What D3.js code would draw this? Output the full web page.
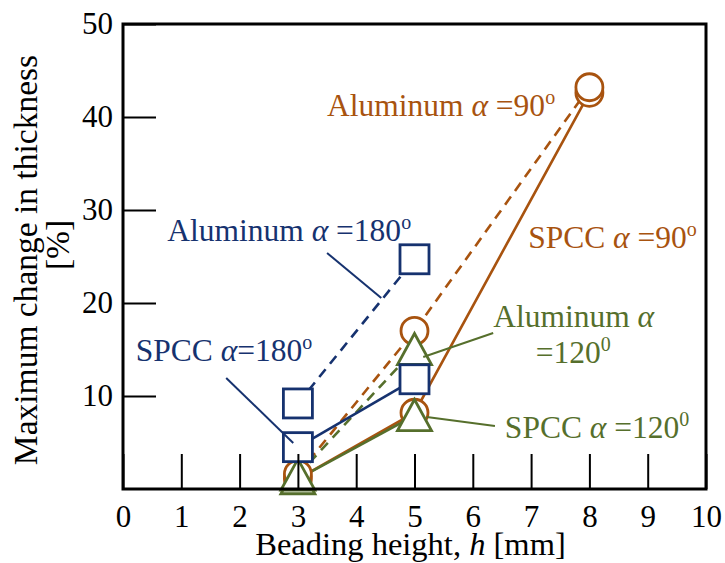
<!DOCTYPE html>
<html>
<head>
<meta charset="utf-8">
<script src="https://cdn.jsdelivr.net/npm/d3@7/dist/d3.min.js"></script>
<style>
  html, body { margin: 0; padding: 0; background: #fff; }
  svg { display: block; }
  text { font-family: "Liberation Serif", "Times New Roman", serif; }
</style>
</head>
<body>
<svg id="chart" width="725" height="563"></svg>
<script>
// Beading height [mm]
const heights = [3, 5, 8];
const heightsShort = [3, 5];

// Maximum change in thickness [%]
const alu90   = [1.6, 17.0, 43.2];
const spcc90  = [1.1, 8.2, 42.6];
const alu120  = [1.5, 15.0];
const spcc120 = [1.1, 7.9];
const alu180  = [9.2, 24.7];
const spcc180 = [4.5, 11.8];

const xTicks = [0, 1, 2, 3, 4, 5, 6, 7, 8, 9, 10];
const yTicks = [10, 20, 30, 40, 50];

const NAVY = "#16326f", ORANGE = "#a8530f", GREEN = "#566f2c";
const SERIF = '"Liberation Serif", "Times New Roman", serif';

const svg = d3.select("#chart");
const x = d3.scaleLinear().domain([0, 10]).range([123, 706]);
const y = d3.scaleLinear().domain([0, 50]).range([489, 24]);

// series: marker shape, colour, dashed or solid
const series = [
  { name: "alu90",   xs: heights,      ys: alu90,   color: ORANGE, dash: true,  shape: "circle" },
  { name: "spcc90",  xs: heights,      ys: spcc90,  color: ORANGE, dash: false, shape: "circle" },
  { name: "alu120",  xs: heightsShort, ys: alu120,  color: GREEN,  dash: true,  shape: "triangle" },
  { name: "spcc120", xs: heightsShort, ys: spcc120, color: GREEN,  dash: false, shape: "triangle" },
  { name: "alu180",  xs: heightsShort, ys: alu180,  color: NAVY,   dash: true,  shape: "square" },
  { name: "spcc180", xs: heightsShort, ys: spcc180, color: NAVY,   dash: false, shape: "square" }
];

const line = d3.line().x(d => x(d[0])).y(d => y(d[1]));

// connecting lines
svg.append("g").selectAll("path")
  .data(series)
  .join("path")
  .attr("d", s => line(s.xs.map((h, i) => [h, s.ys[i]])))
  .attr("fill", "none")
  .attr("stroke", s => s.color)
  .attr("stroke-width", 2.6)
  .attr("stroke-dasharray", s => s.dash ? "10,7" : null);

// markers: circles, then triangles, then squares
const markers = svg.append("g");
["circle", "triangle", "square"].forEach(shape => {
  series.filter(s => s.shape === shape).slice().reverse().forEach(s => {
    const pts = s.xs.map((h, i) => [h, s.ys[i]]);
    const g = markers.append("g");
    if (shape === "circle") {
      g.selectAll("circle").data(pts).join("circle")
        .attr("cx", d => x(d[0])).attr("cy", d => y(d[1])).attr("r", 13.5);
    } else if (shape === "square") {
      g.selectAll("rect").data(pts).join("rect")
        .attr("x", d => x(d[0]) - 14.5).attr("y", d => y(d[1]) - 14.5)
        .attr("width", 29).attr("height", 29);
    } else {
      g.selectAll("path").data(pts).join("path")
        .attr("transform", d => `translate(${x(d[0])},${y(d[1])})`)
        .attr("d", "M0,-16L17,15L-17,15Z");
    }
    g.selectAll("*").attr("fill", "#fff").attr("stroke", s.color)
      .attr("stroke-width", 2.8).attr("stroke-linejoin", "miter");
  });
});

// axes with inward ticks
const fontTick = 31;
const xAxis = svg.append("g").attr("transform", `translate(0,${y(0)})`)
  .call(d3.axisBottom(x).tickValues(xTicks).tickSizeInner(-35).tickSizeOuter(0).tickPadding(16).tickFormat(d3.format("d")));
const yAxis = svg.append("g").attr("transform", `translate(${x(0)},0)`)
  .call(d3.axisLeft(y).tickValues(yTicks).tickSizeInner(-33).tickSizeOuter(0).tickPadding(10).tickFormat(d3.format("d")));
[xAxis, yAxis].forEach(a => {
  a.attr("font-family", SERIF);
  a.select(".domain").remove();
  a.selectAll(".tick line").attr("stroke", "#000").attr("stroke-width", 2);
  a.selectAll(".tick text").attr("fill", "#000").style("font-size", fontTick + "px")
    .style("font-family", SERIF);
});

// frame
svg.append("rect")
  .attr("x", x(0)).attr("y", y(50))
  .attr("width", x(10) - x(0)).attr("height", y(0) - y(50))
  .attr("fill", "none").attr("stroke", "#000").attr("stroke-width", 3);

// axis titles
const xt = svg.append("text")
  .attr("x", (x(0) + x(10)) / 2 - 4).attr("y", 555)
  .attr("text-anchor", "middle").style("font-size", "32.5px");
xt.append("tspan").text("Beading height, ");
xt.append("tspan").attr("font-style", "italic").text("h");
xt.append("tspan").text(" [mm]");

svg.append("text")
  .attr("transform", "translate(37,260) rotate(-90)")
  .attr("text-anchor", "middle").style("font-size", "33.5px")
  .text("Maximum change in thickness");
svg.append("text")
  .attr("transform", "translate(69,245) rotate(-90)")
  .attr("text-anchor", "middle").style("font-size", "33.5px")
  .text("[%]");

// annotation labels (data units)
const labels = [
  { color: ORANGE, at: [3.50, 40.1], parts: ["Aluminum ", "α", " =90", "o"] },
  { color: ORANGE, at: [6.95, 25.9], parts: ["SPCC ", "α", " =90", "o"] },
  { color: NAVY,   at: [0.76, 26.7], parts: ["Aluminum ", "α", " =180", "o"] },
  { color: NAVY,   at: [0.22, 13.76], parts: ["SPCC ", "α", "=180", "o"] },
  { color: GREEN,  at: [6.35, 17.42], parts: ["Aluminum ", "α", "", ""] },
  { color: GREEN,  at: [7.08, 13.55], parts: ["", "", "=120", "0"] },
  { color: GREEN,  at: [6.55, 5.48], parts: ["SPCC ", "α", " =120", "0"] }
];
labels.forEach(l => {
  const t = svg.append("text")
    .attr("x", x(l.at[0])).attr("y", y(l.at[1]))
    .attr("fill", l.color).style("font-size", "31.5px");
  if (l.parts[0]) t.append("tspan").text(l.parts[0]);
  if (l.parts[1]) t.append("tspan").attr("font-style", "italic").text(l.parts[1]);
  if (l.parts[2]) t.append("tspan").text(l.parts[2]);
  if (l.parts[3]) t.append("tspan").attr("dy", -12).style("font-size", "20px").text(l.parts[3]);
});

// leader lines (data units)
const leaders = [
  { color: NAVY,  from: [3.50, 25.38], to: [4.43, 20.54] },
  { color: NAVY,  from: [1.77, 11.94], to: [2.92, 4.95] },
  { color: GREEN, from: [6.35, 16.77], to: [5.15, 14.19] },
  { color: GREEN, from: [6.38, 6.77],  to: [5.21, 7.74] }
];
svg.append("g").selectAll("line").data(leaders).join("line")
  .attr("x1", d => x(d.from[0])).attr("y1", d => y(d.from[1]))
  .attr("x2", d => x(d.to[0])).attr("y2", d => y(d.to[1]))
  .attr("stroke", d => d.color).attr("stroke-width", 2);
</script>
</body>
</html>
